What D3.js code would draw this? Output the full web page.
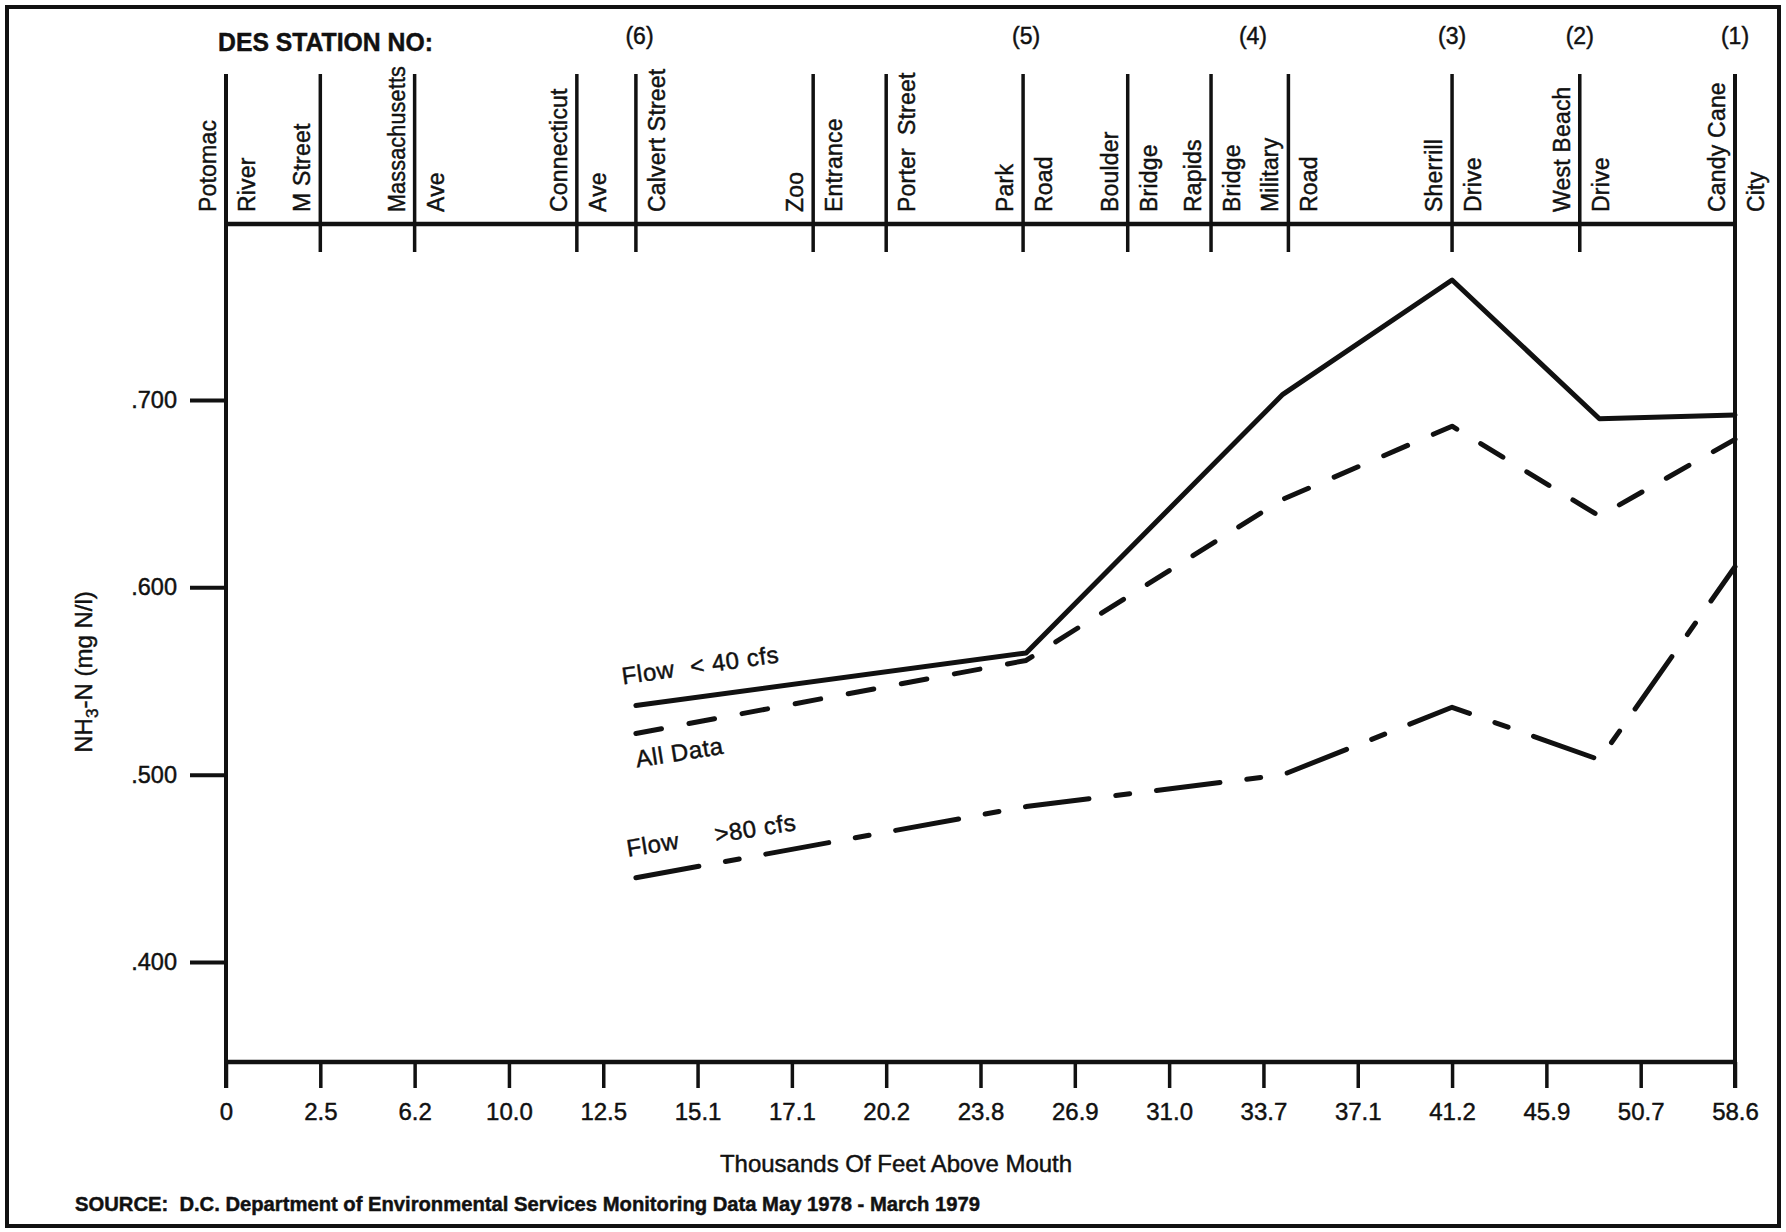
<!DOCTYPE html>
<html>
<head>
<meta charset="utf-8">
<script src="https://cdn.jsdelivr.net/npm/d3@7"></script>
<style>
  html, body { margin: 0; padding: 0; background: #fff; }
  svg { display: block; font-family: "Liberation Sans", Arial, Helvetica, sans-serif; }
  text { fill: #111; white-space: pre; stroke: #111; stroke-width: 0.45; paint-order: stroke; }
</style>
</head>
<body>
<svg id="chart"></svg>
<script>
// --- DATA ---
// bottom axis: thousands of feet above mouth (drawn evenly spaced, as in the original)
const xTicks = [0, 2.5, 6.2, 10.0, 12.5, 15.1, 17.1, 20.2, 23.8, 26.9, 31.0, 33.7, 37.1, 41.2, 45.9, 50.7, 58.6];
const xTickLabels = ["0", "2.5", "6.2", "10.0", "12.5", "15.1", "17.1", "20.2", "23.8", "26.9", "31.0", "33.7", "37.1", "41.2", "45.9", "50.7", "58.6"];
const yTicks = [0.4, 0.5, 0.6, 0.7];
const yTickLabels = [".400", ".500", ".600", ".700"];

// landmarks along the creek, name split either side of the marker line
const stationMiles = [0, 2.5, 6.2, 11.8, 13.4, 17.8, 20.2, 25.2, 29.2, 32.2, 34.6, 41.2, 47.6, 58.6];
const stationLeftNames = ["Potomac", "M Street", "Massachusetts", "Connecticut", "", "Zoo", "", "Park", "Boulder", "Rapids", "Military", "Sherrill", "West Beach", "Candy Cane"];
const stationRightNames = ["River", "", "Ave", "Ave", "Calvert Street", "Entrance", "Porter  Street", "Road", "Bridge", "Bridge", "Road", "Drive", "Drive", "City"];

// DES sampling station numbers
const desNumbers = ["(6)", "(5)", "(4)", "(3)", "(2)", "(1)"];
const desMiles = [13.5, 25.3, 33.4, 41.2, 47.6, 58.6];

// NH3-N (mg N/l) at each sampling point
const sampleMiles = [13.4, 25.3, 34.4, 41.2, 48.6, 58.6];
const flowLow = [0.537, 0.565, 0.703, 0.764, 0.690, 0.692];   // Flow < 40 cfs
const allData = [0.522, 0.561, 0.647, 0.686, 0.638, 0.679];   // All Data
const flowHigh = [0.445, 0.483, 0.500, 0.536, 0.508, 0.611];  // Flow > 80 cfs

// --- SETUP ---
const W = 1786, H = 1232;
const plotLeft = 226, plotRight = 1735, plotTop = 224, plotBottom = 1062;
const stationTop = 74;
const labelMax = 146;   // longest station name fits under the header
const ink = "#111";

const svg = d3.select("#chart").attr("width", W).attr("height", H);

// piecewise scale: tick values sit at equal steps
const step = (plotRight - plotLeft) / (xTicks.length - 1);
const x = d3.scaleLinear()
    .domain(xTicks)
    .range(xTicks.map((d, i) => plotLeft + i * step));
const y = d3.scaleLinear()
    .domain([0.3467, 0.7939])
    .range([plotBottom, plotTop]);

// outer frame
svg.append("rect")
    .attr("x", 7).attr("y", 7)
    .attr("width", W - 14).attr("height", H - 13)
    .attr("fill", "none").attr("stroke", ink).attr("stroke-width", 4);

// --- AXES ---
const yAxis = d3.axisLeft(y)
    .tickValues(yTicks)
    .tickFormat((d, i) => yTickLabels[i])
    .tickSize(36)
    .tickPadding(13);
const gy = svg.append("g").attr("transform", `translate(${plotLeft},0)`).call(yAxis);
gy.select(".domain").remove();
gy.selectAll(".tick line").attr("stroke", ink).attr("stroke-width", 4);
gy.selectAll(".tick text").attr("font-size", 23.5).attr("fill", ink).attr("font-family", null);

const xAxis = d3.axisBottom(x)
    .tickValues(xTicks)
    .tickFormat((d, i) => xTickLabels[i])
    .tickSize(26)
    .tickPadding(15);
const gx = svg.append("g").attr("transform", `translate(0,${plotBottom})`).call(xAxis);
gx.select(".domain").remove();
gx.selectAll(".tick line").attr("stroke", ink).attr("stroke-width", 3.5);
gx.selectAll(".tick text").attr("font-size", 24).attr("fill", ink).attr("font-family", null);

// plot frame: bottom axis, left/right edges, station baseline
svg.append("line")
    .attr("x1", plotLeft).attr("x2", plotRight)
    .attr("y1", plotBottom).attr("y2", plotBottom)
    .attr("stroke", ink).attr("stroke-width", 4.5);
svg.append("line")
    .attr("x1", plotLeft).attr("x2", plotRight)
    .attr("y1", plotTop).attr("y2", plotTop)
    .attr("stroke", ink).attr("stroke-width", 4.5);
[0, 58.6].forEach(m => {
    svg.append("line")
        .attr("x1", x(m)).attr("x2", x(m))
        .attr("y1", stationTop).attr("y2", plotBottom + 26)
        .attr("stroke", ink).attr("stroke-width", 4);
});

// station marker lines + names
const stations = svg.append("g");
function stationLabel(tx, name) {
    const t = stations.append("text")
        .attr("transform", `translate(${tx},212) rotate(-90)`)
        .attr("font-size", 23)
        .attr("letter-spacing", 0.2)
        .text(name);
    if (t.node().getComputedTextLength() > labelMax) {
        t.attr("textLength", labelMax).attr("lengthAdjust", "spacingAndGlyphs");
    }
}
stationMiles.forEach((m, i) => {
    const sx = x(m);
    if (i > 0 && i < stationMiles.length - 1) {
        stations.append("line")
            .attr("x1", sx).attr("x2", sx)
            .attr("y1", stationTop).attr("y2", plotTop + 28)
            .attr("stroke", ink).attr("stroke-width", 3.5);
    }
    if (stationLeftNames[i]) stationLabel(sx - 10, stationLeftNames[i]);
    if (stationRightNames[i]) stationLabel(sx + 29, stationRightNames[i]);
});

svg.append("text")
    .attr("x", 218).attr("y", 51)
    .attr("font-size", 25).attr("font-weight", "bold")
    .attr("stroke-width", 0)
    .attr("textLength", 215).attr("lengthAdjust", "spacingAndGlyphs")
    .text("DES STATION NO:");

svg.append("g").selectAll("text")
    .data(desNumbers)
    .join("text")
    .attr("x", (d, i) => x(desMiles[i]))
    .attr("y", 44)
    .attr("text-anchor", "middle")
    .attr("font-size", 23)
    .text(d => d);

// --- SERIES ---
const line = d3.line()
    .x(d => x(d[0]))
    .y(d => y(d[1]));
const pairs = vals => vals.map((v, i) => [sampleMiles[i], v]);

const series = [
    { values: flowLow, dash: null },
    { values: allData, dash: "26,28" },
    { values: flowHigh, dash: "64,27,14,27" }
];
svg.append("g").selectAll("path")
    .data(series)
    .join("path")
    .attr("d", d => line(pairs(d.values)))
    .attr("fill", "none")
    .attr("stroke", ink)
    .attr("stroke-width", 5)
    .attr("stroke-linecap", "round")
    .attr("stroke-linejoin", "round")
    .attr("stroke-dasharray", d => d.dash);

// in-plot series labels
const lab = svg.append("g").attr("font-size", 24).attr("letter-spacing", 0.6);
const t1 = lab.append("text")
    .attr("transform", `translate(${x(sampleMiles[0]) - 13},${y(flowLow[0]) - 21}) rotate(-8)`);
t1.append("tspan").text("Flow");
t1.append("tspan").attr("dx", 16).text("< 40 cfs");

lab.append("text")
    .attr("transform", `translate(${x(sampleMiles[0]) + 1},${y(allData[0]) + 34}) rotate(-9)`)
    .text("All Data");

const t3 = lab.append("text")
    .attr("transform", `translate(${x(sampleMiles[0]) - 8},${y(flowHigh[0]) - 21}) rotate(-9)`);
t3.append("tspan").text("Flow");
t3.append("tspan").attr("dx", 36).text(">80 cfs");

// axis titles
const yt = svg.append("text")
    .attr("transform", `translate(92,672) rotate(-90)`)
    .attr("text-anchor", "middle")
    .attr("font-size", 24);
yt.append("tspan").text("NH");
yt.append("tspan").attr("font-size", 17).attr("dy", 6).text("3");
yt.append("tspan").attr("dy", -6).text("-N (mg N/l)");

svg.append("text")
    .attr("x", 896).attr("y", 1172)
    .attr("text-anchor", "middle")
    .attr("font-size", 24)
    .text("Thousands Of Feet Above Mouth");

svg.append("text")
    .attr("x", 75).attr("y", 1211)
    .attr("font-size", 20).attr("font-weight", "bold")
    .attr("stroke-width", 0)
    .attr("textLength", 905).attr("lengthAdjust", "spacingAndGlyphs")
    .text("SOURCE:  D.C. Department of Environmental Services Monitoring Data May 1978 - March 1979");
</script>
</body>
</html>
